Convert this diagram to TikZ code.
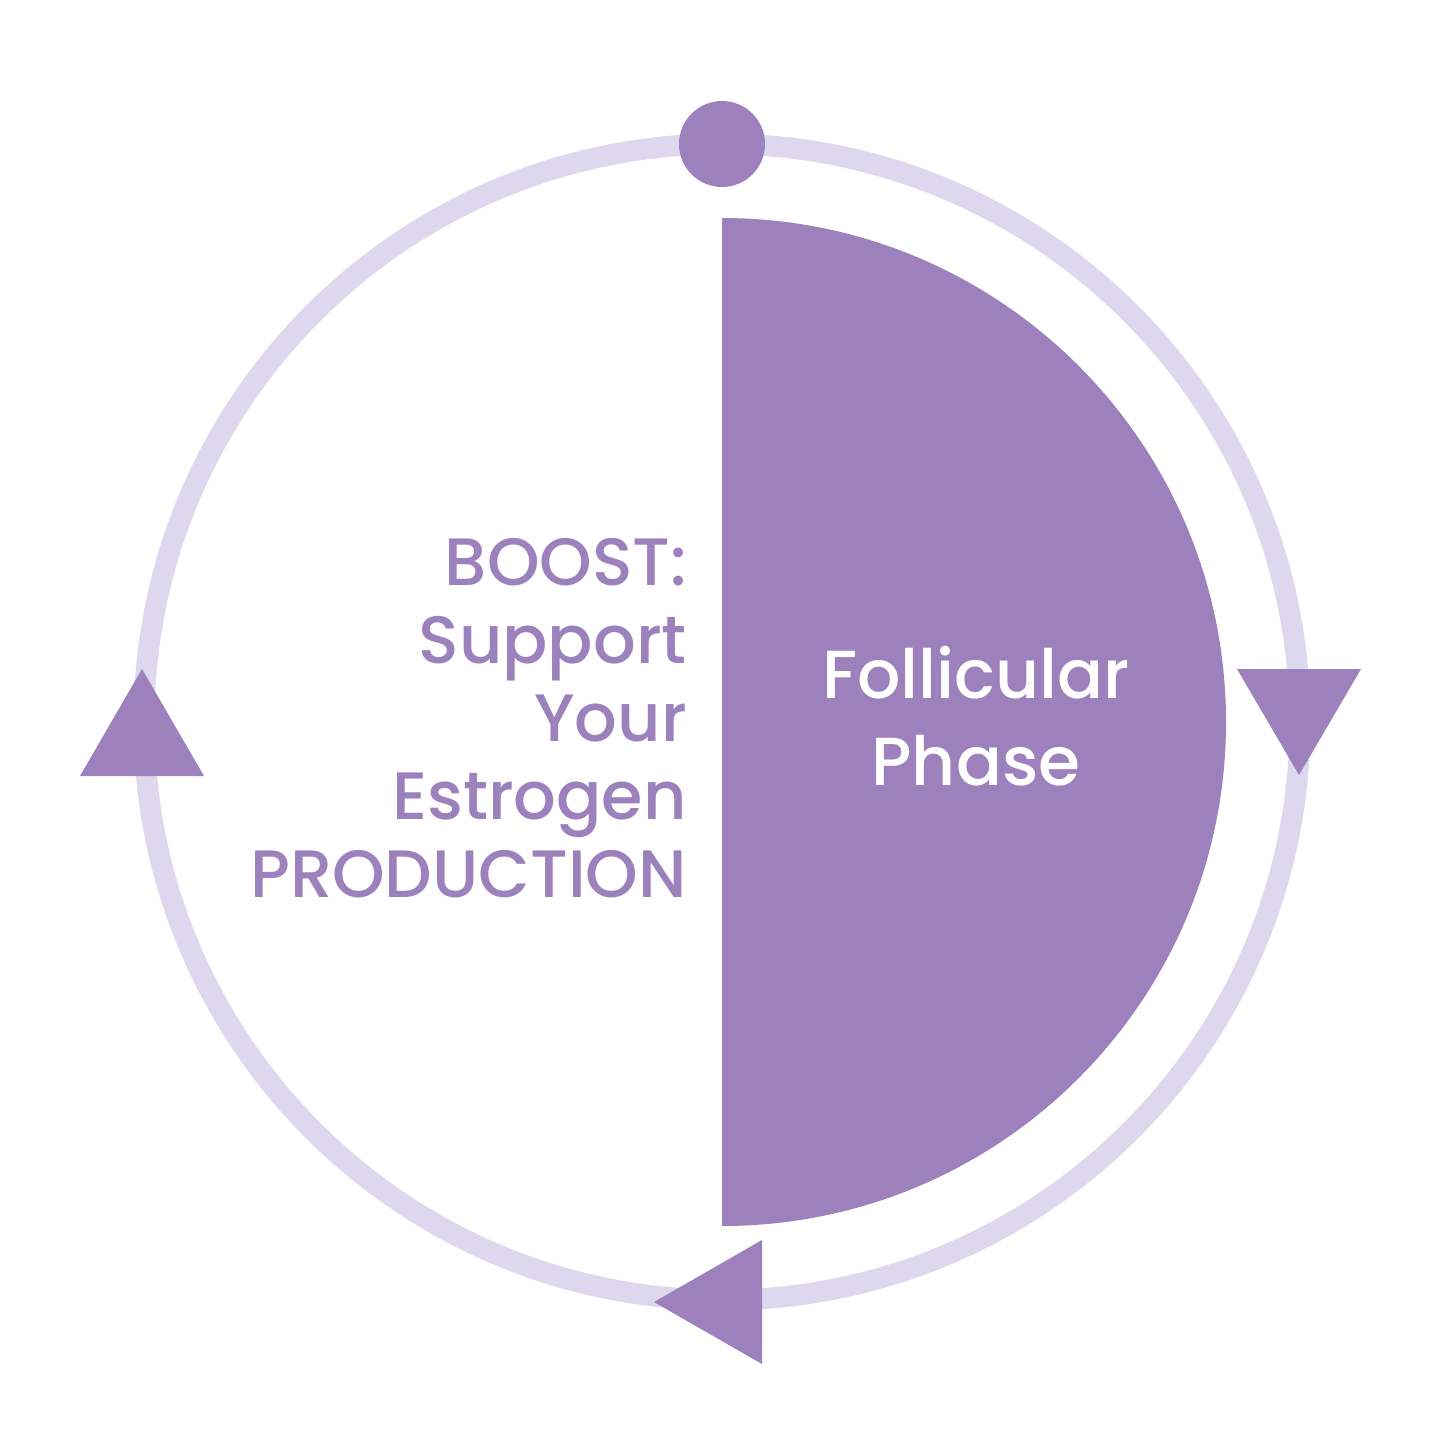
\documentclass[tikz,border=0pt]{standalone}
\usepackage{fontspec}
\setmainfont{Poppins}[UprightFont=* Medium]
\definecolor{phase}{HTML}{9D81BD}
\definecolor{ringc}{HTML}{DDD8EE}
\begin{document}
\begin{tikzpicture}[x=1pt,y=-1pt,
  ring/.style={draw=ringc,line width=21pt},
  solid/.style={fill=phase,draw=none},
  lefttext/.style={text=phase,font=\fontsize{67}{78}\selectfont,align=right,inner sep=0pt,anchor=base east},
  phasetext/.style={text=white,font=\fontsize{68}{87}\selectfont,align=center,inner sep=0pt,anchor=base}]
\useasboundingbox[fill=white] (0,0) rectangle (1445,1445);
\coordinate (c) at (722,722);
% ring
\draw[ring] (c) circle[radius=578];
% half disc
\fill[solid] (722,218) arc[start angle=-90,end angle=90,radius=504] -- cycle;
% top dot
\fill[solid] (722,144) circle[radius=43];
% triangles
\fill[solid] (142,669) -- (204,776) -- (80,776) -- cycle;
\fill[solid] (1237,669) -- (1361,669) -- (1299,775) -- cycle;
\fill[solid] (762,1240) -- (762,1364) -- (654,1302) -- cycle;
% texts
\node[lefttext] (boost) at (687,897) {BOOST:\\Support\\Your\\Estrogen\\PRODUCTION};
\node[phasetext] (phase) at (976,785) {Follicular\\Phase};
\end{tikzpicture}
\end{document}
